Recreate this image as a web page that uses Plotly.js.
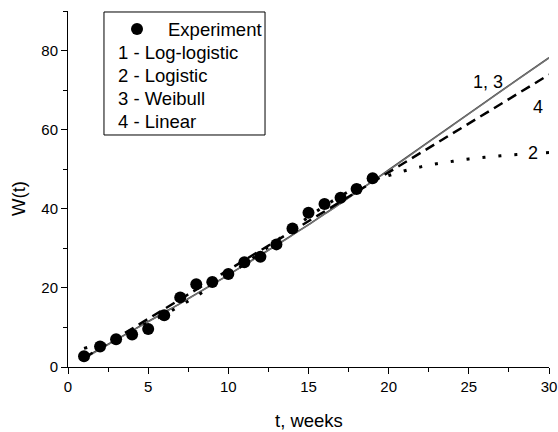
<!DOCTYPE html>
<html>
<head>
<meta charset="utf-8">
<script src="https://cdn.plot.ly/plotly-3.0.1.min.js"></script>
<style>html,body{margin:0;padding:0;background:#fff;}#chart{width:558px;height:432px;}</style>
</head>
<body>
<div id="chart"></div>
<script>
// Experimental data
const expT = [1,2,3,4,5,6,7,8,9,10,11,12,13,14,15,16,17,18,19];
const expW = [2.7,5.2,7.0,8.2,9.6,13.1,17.6,20.9,21.5,23.5,26.5,27.9,31.0,35.0,39.0,41.2,42.8,45.0,47.7];

// Model curves
const logLogT = [1,2,3,4,5,6,7,8,9,10,11,12,13,14,15,16,17,18,19,20,22,24,26,28,30];
const logLogW = [2.3,4.6,6.9,9.2,11.5,13.8,16.1,18.5,20.9,23.3,25.8,28.3,30.8,33.4,36.0,38.7,41.4,44.2,47.0,49.8,55.5,61.2,66.9,72.6,78.2];

const weibullT = [1,2,3,4,5,6,7,8,9,10,11,12,13,14,15,16,17,18,19,20,22,24,26,28,30];
const weibullW = [2.0,4.4,6.8,9.1,11.4,13.7,16.0,18.4,20.8,23.2,25.7,28.2,30.7,33.3,35.9,38.6,41.3,44.1,46.9,49.7,55.4,61.1,66.8,72.5,78.1];

const logisticT = [1,2,3,4,5,6,7,8,9,10,11,12,13,14,15,16,17,18,19,20,21,22,23,24,25,26,27,28,29,30];
const logisticW = [4.7,5.9,7.5,9.3,11.2,13.2,15.5,17.9,20.5,23.2,26.0,28.9,31.9,34.9,37.9,40.7,43.2,45.4,47.1,48.4,49.6,50.6,51.4,52.0,52.6,53.0,53.4,53.7,53.95,54.2];

const linearT = [1,30];
const linearW = [2.3,73.9];

const legendLabels = ["Experiment","1 - Log-logistic","2 - Logistic","3 - Weibull","4 - Linear"];
const curveLabels = [{text:"1, 3", t:26.2, w:72.0},{text:"4", t:29.3, w:65.8},{text:"2", t:29.0, w:54.2}];
const xTitle = "t, weeks";
const yTitle = "W(t)";

const traces = [
  {x: logLogT, y: logLogW, mode:'lines', line:{color:'#444', width:1.6, shape:'spline'}, showlegend:false},
  {x: weibullT, y: weibullW, mode:'lines', line:{color:'#777', width:1.2, shape:'spline'}, showlegend:false},
  {x: linearT, y: linearW, mode:'lines', line:{color:'#000', width:2.5, dash:'10px,6px'}, showlegend:false},
  {x: logisticT, y: logisticW, mode:'lines', line:{color:'#000', width:3, dash:'3px,13px', shape:'spline'}, showlegend:false},
  {x: expT, y: expW, mode:'markers', marker:{color:'#000', size:12, symbol:'circle'}, showlegend:false}
];

const font = {family:'"Liberation Sans", Arial, sans-serif', color:'#000'};
const f = s => Object.assign({size:s}, font);

const annotations = [];
// legend rows (paper coords)
const rowY = [0.9494, 0.8848, 0.8202, 0.7556, 0.6910];
annotations.push({xref:'paper', yref:'paper', x:0.2037, y:rowY[0], text:legendLabels[0], showarrow:false, xanchor:'left', yanchor:'middle', font:f(18.5)});
for (let i=1;i<legendLabels.length;i++){
  annotations.push({xref:'paper', yref:'paper', x:0.0998, y:rowY[i], text:legendLabels[i], showarrow:false, xanchor:'left', yanchor:'middle', font:f(18.5)});
}
curveLabels.forEach(c=>{
  annotations.push({x:c.t, y:c.w, xref:'x', yref:'y', text:c.text, showarrow:false, xanchor:'center', yanchor:'middle', bgcolor: c.text==='2' ? '#fff' : 'rgba(0,0,0,0)', borderpad:0, font:f(18)});
});
// axis titles
annotations.push({xref:'paper', yref:'paper', x:0.5, y:-0.1489, text:xTitle, showarrow:false, xanchor:'center', yanchor:'middle', font:f(18.5)});
annotations.push({xref:'paper', yref:'paper', x:-0.104, y:0.4747, text:yTitle, textangle:-90, showarrow:false, xanchor:'center', yanchor:'middle', font:f(18.5)});

const shapes = [
  {type:'rect', xref:'paper', yref:'paper', x0:0.0748, x1:0.4096, y0:0.6517, y1:0.9972, line:{color:'#000', width:1}, fillcolor:'#fff', layer:'above'},
  {type:'circle', xref:'paper', yref:'paper', xsizemode:'pixel', ysizemode:'pixel', xanchor:0.1435, yanchor:rowY[0], x0:-6, x1:6, y0:-6, y1:6, fillcolor:'#000', line:{color:'#000', width:0}}
];

const layout = {
  width:558, height:432,
  margin:{l:68, r:9, t:11, b:65},
  paper_bgcolor:'#fff', plot_bgcolor:'#fff',
  font: f(15),
  showlegend:false,
  xaxis:{range:[0,30], tickvals:[0,5,10,15,20,25,30], ticktext:['0','5','10','15','20','25','30'],
    ticks:'outside', ticklen:6, tickwidth:1, tickcolor:'#000', showline:true, linecolor:'#000', linewidth:1,
    showgrid:false, zeroline:false, tickfont:f(15),
    minor:{dtick:2.5, ticks:'outside', ticklen:4, tickcolor:'#000', showgrid:false}},
  yaxis:{range:[0,90], tickvals:[0,20,40,60,80], ticktext:['0','20','40','60','80'],
    ticks:'outside', ticklen:6, tickwidth:1, tickcolor:'#000', showline:true, linecolor:'#000', linewidth:1,
    showgrid:false, zeroline:false, tickfont:f(15),
    minor:{dtick:10, ticks:'outside', ticklen:4, tickcolor:'#000', showgrid:false}},
  shapes: shapes,
  annotations: annotations
};

Plotly.newPlot('chart', traces, layout, {displayModeBar:false, staticPlot:true});
</script>
</body>
</html>
